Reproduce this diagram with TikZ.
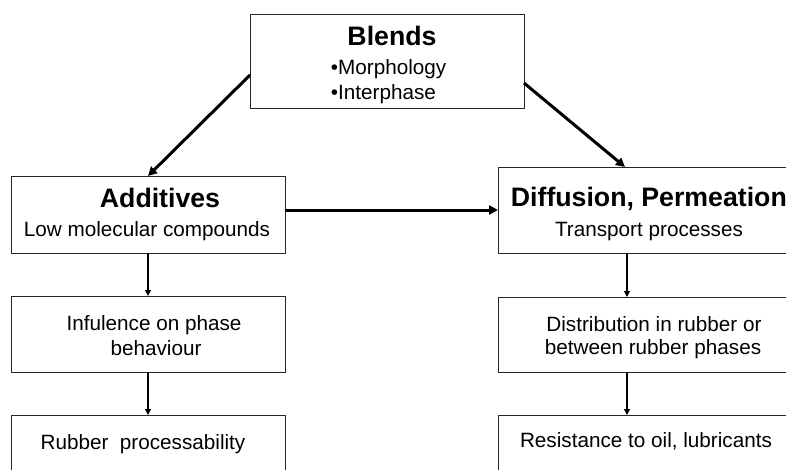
\documentclass[tikz,border=0pt]{standalone}
\usepackage{fontspec}
\setmainfont{Liberation Sans}
\usetikzlibrary{arrows.meta}
\begin{document}
\begin{tikzpicture}[x=1pt,y=-1pt,
  box/.style={draw=black!85,line width=1pt,inner sep=0pt,outer sep=0pt,anchor=north west},
  hd/.style={font=\fontsize{26.7}{30}\selectfont\bfseries,anchor=base,inner sep=0pt},
  bd/.style={font=\fontsize{20.7}{24}\selectfont,anchor=base,inner sep=0pt},
  bigarrow/.style={line width=3pt,-{Triangle[length=9pt,width=9pt]}},
  smallarrow/.style={line width=1.2pt,-{Triangle[length=6pt,width=6pt]}}]
\fill[white] (0,0) rectangle (786,469);
\useasboundingbox (0,0) rectangle (786,469);
\clip (0,0) rectangle (786,469);
% boxes
\node[box,minimum width=274pt,minimum height=94pt] (blends) at (250,14) {};
\node[box,minimum width=274pt,minimum height=77pt] (add) at (11,176) {};
\node[box,minimum width=310pt,minimum height=86pt] (diff) at (498,167) {};
\node[box,minimum width=274pt,minimum height=76pt] (infl) at (11,296) {};
\node[box,minimum width=274pt,minimum height=80pt] (rubb) at (11,415) {};
\node[box,minimum width=310pt,minimum height=75pt] (dist) at (498,297) {};
\node[box,minimum width=310pt,minimum height=80pt] (resi) at (498,415) {};
% texts
\node[hd] (t1) at (392,45.7) {Blends};
\node[bd,anchor=base west] (t2) at (330.7,74) {•Morphology};
\node[bd,anchor=base west] (t3) at (330.7,99) {•Interphase};
\node[hd] (t4) at (160,207) {Additives};
\node[bd] (t5) at (147,236) {Low molecular compounds};
\node[hd,anchor=base west] (t6) at (510.7,206.7) {Diffusion, Permeation};
\node[bd] (t7) at (649,236) {Transport processes};
\node[bd] (t8) at (154,330) {Infulence on phase};
\node[bd] (t9) at (156,355) {behaviour};
\node[bd] (t10) at (143,449) {Rubber\ \ processability};
\node[bd] (t11) at (654,331) {Distribution in rubber or};
\node[bd] (t12) at (653,354) {between rubber phases};
\node[bd] (t13) at (646,447) {Resistance to oil, lubricants};
% connectors
\draw[bigarrow] ([yshift=-14pt]blends.west) -- (add.north);
\draw[bigarrow] ([yshift=-22pt]blends.east) -- ([xshift=-28pt]diff.north);
\draw[bigarrow] (add.east |- diff.west) -- (diff.west);
\draw[smallarrow] (add.south) -- (infl.north);
\draw[smallarrow] (infl.south) -- (rubb.north);
\draw[smallarrow] ([xshift=-26pt]diff.south) -- ([xshift=-26pt]dist.north);
\draw[smallarrow] ([xshift=-26pt]dist.south) -- ([xshift=-26pt]resi.north);
\end{tikzpicture}
\end{document}
